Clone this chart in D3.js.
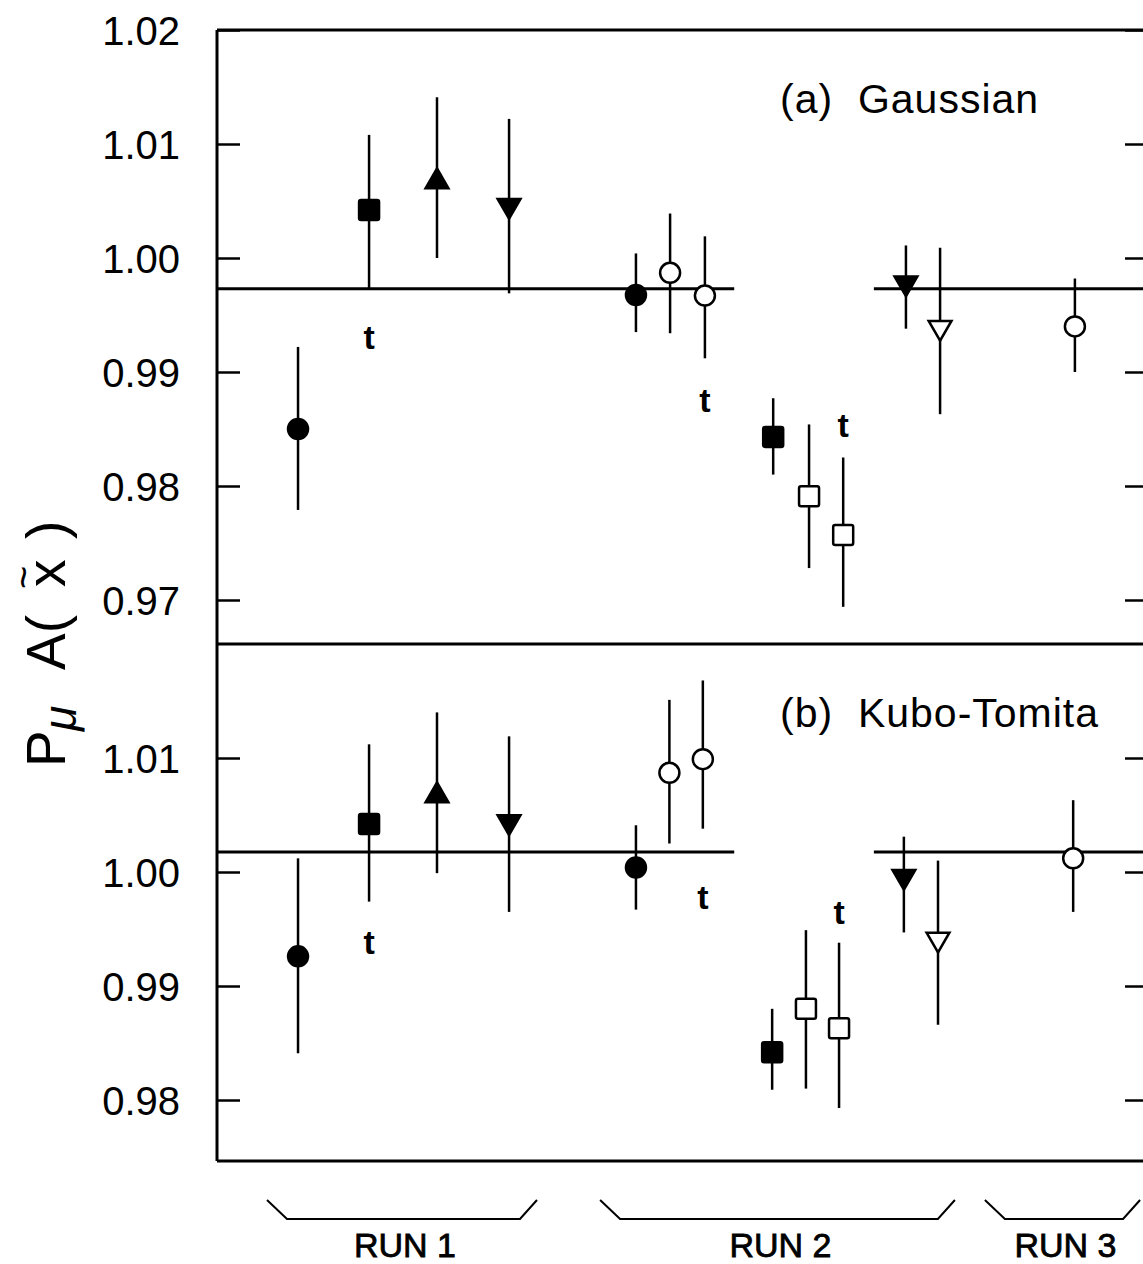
<!DOCTYPE html>
<html lang="en">
<head>
<meta charset="UTF-8">
<title>P_mu A(x) - Gaussian and Kubo-Tomita</title>
<script src="https://cdnjs.cloudflare.com/ajax/libs/d3/7.8.5/d3.min.js"></script>
<style>
    body { margin: 0; background: #fff; }
    svg { display: block; font-family: Arial, "Liberation Sans", Helvetica, sans-serif; }
    .tick text { font-size: 40px; fill: #000; }
    .tick line { stroke: #000; stroke-width: 2.5; }
</style>
</head>
<body>
<div id="chart"></div>
<script>
// slot positions of each measurement along the run axis
const xPosA = [2.35, 4.41, 6.38, 8.47, 12.15, 13.14, 14.15, 16.13, 17.17, 18.16, 19.98, 20.97, 24.88];
const xPosB = [2.35, 4.41, 6.38, 8.47, 12.15, 13.12, 14.09, 16.10, 17.08, 18.04, 19.92, 20.91, 24.83];
// fc filled circle, oc open circle, fs/os squares, fu up triangle, fd/od down triangles
const markers = ["fc", "fs", "fu", "fd", "fc", "oc", "oc", "fs", "os", "os", "fd", "od", "oc"];

// (a) Gaussian
const gaussVal = [0.9850, 1.0042, 1.0067, 1.0046, 0.99675, 0.9987, 0.9967, 0.9843, 0.9791, 0.9757, 0.9978, 0.9939, 0.9940];
const gaussLo  = [0.9779, 0.9973, 1.0000, 0.9969, 0.9935, 0.9934, 0.9912, 0.9810, 0.9728, 0.9694, 0.9938, 0.9863, 0.9900];
const gaussHi  = [0.9922, 1.0108, 1.0141, 1.0122, 1.0004, 1.0039, 1.0019, 0.9877, 0.9854, 0.9825, 1.0011, 1.0009, 0.9982];
const gaussFit = 0.9973;
const gaussTX = [4.41, 14.15, 18.16];
const gaussTY = [0.99307, 0.98754, 0.98535];

// (b) Kubo-Tomita
const kuboVal = [0.9926, 1.0042, 1.0067, 1.0044, 1.0004, 1.0087, 1.0099, 0.9842, 0.9880, 0.9863, 0.9996, 0.9941, 1.0012];
const kuboLo  = [0.9841, 0.9974, 0.9999, 0.9965, 0.9967, 1.0025, 1.0038, 0.9809, 0.9810, 0.9793, 0.9947, 0.9866, 0.9965];
const kuboHi  = [1.0012, 1.0112, 1.0140, 1.0119, 1.0041, 1.0151, 1.0168, 0.9880, 0.9949, 0.9938, 1.0031, 1.0010, 1.0063];
const kuboFit = 1.00175;
const kuboTX = [4.41, 14.09, 18.04];
const kuboTY = [0.99386, 0.99781, 0.99649];

// fit line drawn in two pieces, with a gap in the middle of run 2
const fitStart = [0, 19.05];
const fitEnd   = [15.0, 27];

const ticksA = [0.97, 0.98, 0.99, 1.00, 1.01, 1.02];
const ticksB = [0.98, 0.99, 1.00, 1.01];

const runNames = ["RUN 1", "RUN 2", "RUN 3"];
const runStart = [1.45, 11.11, 22.27];
const runEnd   = [9.28, 21.40, 26.77];

const width = 1143, height = 1264;
const left = 217, right = 1148;

const svg = d3.select("#chart").append("svg")
    .attr("width", width)
    .attr("height", height);

svg.append("rect").attr("width", width).attr("height", height).attr("fill", "#fff");

const x = d3.scaleLinear().domain([0, 27]).range([left, right]);
// both panels share the same vertical scale (0.01 = 114px)
const yA = d3.scaleLinear().domain([0.96614, 1.02]).range([644, 30]);
const yB = d3.scaleLinear().domain([0.97465, 1.02]).range([1161, 644]);

function drawPanel(y, ticks, xs, vals, lo, hi, fit, tx, ty, label) {
    const g = svg.append("g");

    // left axis, ticks pointing inward
    const ax = g.append("g")
        .attr("transform", `translate(${left},0)`)
        .call(d3.axisLeft(y).tickValues(ticks).tickFormat(d3.format(".2f"))
            .tickSizeInner(-23).tickSizeOuter(0).tickPadding(37));
    ax.select(".domain").remove();
    ax.selectAll(".tick text").attr("dy", "0.36em");

    // right axis (frame sits just past the page edge)
    const ax2 = g.append("g")
        .attr("transform", `translate(${right},0)`)
        .call(d3.axisRight(y).tickValues(ticks).tickFormat("")
            .tickSizeInner(-23).tickSizeOuter(0));
    ax2.select(".domain").remove();

    // fit line
    g.selectAll(".fit")
        .data(fitStart)
        .enter().append("line")
        .attr("x1", d => x(d))
        .attr("x2", (d, i) => x(fitEnd[i]))
        .attr("y1", y(fit)).attr("y2", y(fit))
        .attr("stroke", "#000").attr("stroke-width", 3);

    // error bars
    g.selectAll(".err")
        .data(vals)
        .enter().append("line")
        .attr("x1", (d, i) => x(xs[i])).attr("x2", (d, i) => x(xs[i]))
        .attr("y1", (d, i) => y(lo[i])).attr("y2", (d, i) => y(hi[i]))
        .attr("stroke", "#000").attr("stroke-width", 2.5);

    // markers
    const tri = d3.symbol().type(d3.symbolTriangle).size(225);
    vals.forEach((v, i) => {
        const m = markers[i];
        const cx = x(xs[i]), cy = y(v);
        const fill = m[0] === "f" ? "#000" : "#fff";
        let el;
        if (m[1] === "c") {
            el = g.append("circle").attr("cx", cx).attr("cy", cy).attr("r", 10);
        } else if (m[1] === "s") {
            el = g.append("rect").attr("x", cx - 10).attr("y", cy - 10)
                .attr("width", 20).attr("height", 20).attr("rx", 2);
        } else {
            const rot = m[1] === "d" ? 180 : 0;
            el = g.append("path").attr("d", tri())
                .attr("transform", `translate(${cx},${cy}) rotate(${rot})`);
        }
        el.attr("fill", fill).attr("stroke", "#000").attr("stroke-width", 2.5);
    });

    // "t" marks
    g.selectAll(".tmark")
        .data(tx)
        .enter().append("text")
        .attr("x", d => x(d))
        .attr("y", (d, i) => y(ty[i]))
        .attr("dy", "0.35em")
        .attr("text-anchor", "middle")
        .attr("font-size", 34)
        .attr("font-weight", "bold")
        .text("t");

    // panel title
    g.append("text")
        .attr("x", 780)
        .attr("y", y.range()[1] + 83)
        .attr("font-size", 41)
        .attr("letter-spacing", 1)
        .attr("xml:space", "preserve")
        .text(label);
}

drawPanel(yA, ticksA, xPosA, gaussVal, gaussLo, gaussHi, gaussFit, gaussTX, gaussTY, "(a)  Gaussian");
drawPanel(yB, ticksB, xPosB, kuboVal, kuboLo, kuboHi, kuboFit, kuboTX, kuboTY, "(b)  Kubo-Tomita");

// frame: left edge and the three horizontal borders
const frame = svg.append("g").attr("stroke", "#000").attr("stroke-width", 3);
frame.append("line").attr("x1", left).attr("x2", left).attr("y1", yA(1.02)).attr("y2", yB.range()[0]);
[yA(1.02), yA.range()[0], yB.range()[0]].forEach(yy => {
    frame.append("line").attr("x1", left).attr("x2", right).attr("y1", yy).attr("y2", yy);
});

// run brackets
const bTop = 1200, bBot = 1219, bIn = 20;
const brackets = svg.append("g");
brackets.selectAll("path")
    .data(runNames)
    .enter().append("path")
    .attr("d", (d, i) => {
        const x0 = x(runStart[i]), x1 = x(runEnd[i]);
        return d3.line()([[x0, bTop], [x0 + bIn, bBot], [x1 - bIn + 3, bBot], [x1, bTop]]);
    })
    .attr("fill", "none")
    .attr("stroke", "#000")
    .attr("stroke-width", 2);

brackets.selectAll("text")
    .data(runNames)
    .enter().append("text")
    .attr("x", (d, i) => x((runStart[i] + runEnd[i]) / 2) + 3)
    .attr("y", 1257)
    .attr("text-anchor", "middle")
    .attr("font-size", 34)
    .attr("stroke", "#000")
    .attr("stroke-width", 0.8)
    .text(d => d);

// y axis label: P_mu A(x~)
const yl = svg.append("text")
    .attr("transform", "translate(65,767) rotate(-90)")
    .attr("font-size", 55)
    .attr("fill", "#000");
yl.append("tspan").attr("x", 0).attr("y", 0).text("P");
yl.append("tspan").attr("x", 36).attr("y", 11).attr("font-size", 46).attr("font-style", "italic").text("μ");
yl.append("tspan").attr("x", 97).attr("y", 0).text("A(");
yl.append("tspan").attr("x", 180).attr("y", 0).text("x");
yl.append("tspan").attr("x", 178).attr("y", -28).attr("font-size", 40).text("~");
yl.append("tspan").attr("x", 228).attr("y", 0).text(")");
</script>
</body>
</html>
